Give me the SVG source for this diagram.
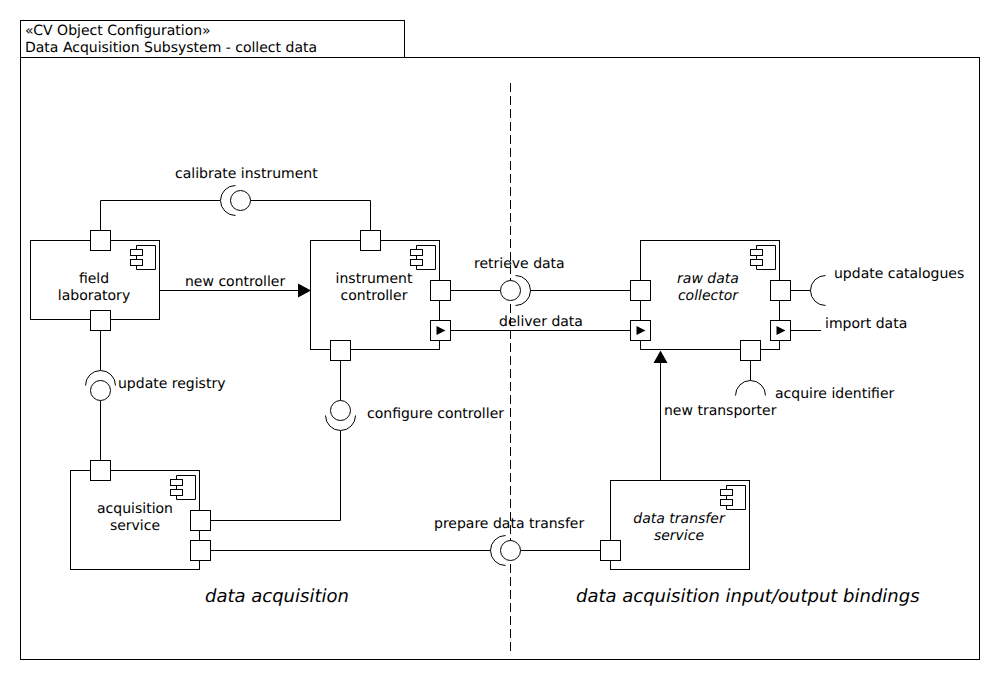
<svg xmlns="http://www.w3.org/2000/svg" width="1000" height="690" viewBox="0 0 1000 690">
<style>
text{font-family:"DejaVu Sans",sans-serif;font-size:14px;fill:#000;text-rendering:geometricPrecision}
.m{text-anchor:middle}
.i{font-style:italic}
.b{font-size:18px;font-style:italic}
.s{fill:#fff;stroke:#000;stroke-width:1}
.l{fill:none;stroke:#000;stroke-width:1}
.f{fill:#000;stroke:none}
</style>
<defs>
<g id="icon"><path class="s" d="M0.500 0.500H19.500V24.500H0.500Z"/><rect class="s" x="-5.500" y="4.500" width="12" height="6"/><rect class="s" x="-5.500" y="14.500" width="12" height="6"/></g>
<rect id="port" class="s" width="20" height="20"/>
<path id="pt" class="f" d="M0 0L9 4.500L0 9Z"/>
</defs>
<rect width="1000" height="690" fill="#fff"/>
<g id="package">
<rect class="s" x="20.500" y="20.500" width="384" height="37"/>
<rect class="s" x="20.500" y="57.500" width="959" height="602"/>
<text x="25" y="35">«CV Object Configuration»</text>
<text x="25" y="52">Data Acquisition Subsystem - collect data</text>
<path class="l" stroke-dasharray="9 4" d="M510.500 83V651"/>
</g>
<g id="connectors">
<path class="l" d="M100.500 230.500V200.500H220M250 200.500H370.500V230.500"/>
<path class="l" d="M100.500 330.500V370M100.500 400.500V460.500"/>
<path class="l" d="M340.500 360.500V400.500M340.500 430.500V520.500H210.500"/>
<path class="l" d="M450.500 290.500H500.500M530.500 290.500H630.500"/>
<path class="l" d="M450.500 330.500H630.500"/>
<path class="l" d="M210.500 550.500H490.500M520.500 550.500H600.500"/>
<path class="l" d="M790.500 290.500H810.500"/>
<path class="l" d="M790.500 330.500H821"/>
<path class="l" d="M750.500 360.500V380.500"/>
<path class="l" d="M160 290.500H299"/><path class="f" d="M298 283.500L311 290.500L298 297.500Z"/>
<path class="l" d="M660.500 480.500V362"/><path class="f" d="M660.500 350.500L667.500 363H653.500Z"/>
</g>
<g id="field-laboratory">
<rect class="s" x="30.500" y="240.500" width="129" height="79"/>
<use href="#icon" x="136" y="245"/>
<use href="#port" x="90.500" y="230.500"/><use href="#port" x="90.500" y="310.500"/>
<text class="m" x="94" y="283">field</text><text class="m" x="94" y="300">laboratory</text>
</g>
<g id="instrument-controller">
<rect class="s" x="310.500" y="240.500" width="129" height="109"/>
<use href="#icon" x="416" y="245"/>
<use href="#port" x="360.500" y="230.500"/><use href="#port" x="430.500" y="280.500"/><use href="#port" x="430.500" y="320.500"/><use href="#port" x="330.500" y="340.500"/>
<use href="#pt" x="436.500" y="326"/>
<text class="m" x="374" y="283">instrument</text><text class="m" x="374" y="300">controller</text>
</g>
<g id="raw-data-collector">
<rect class="s" x="640.500" y="240.500" width="139" height="109"/>
<use href="#icon" x="756" y="245"/>
<use href="#port" x="630.500" y="280.500"/><use href="#port" x="630.500" y="320.500"/><use href="#port" x="770.500" y="280.500"/><use href="#port" x="770.500" y="320.500"/><use href="#port" x="740.500" y="340.500"/>
<use href="#pt" x="636.500" y="326"/><use href="#pt" x="776.500" y="326"/>
<text class="m i" x="708" y="283">raw data</text><text class="m i" x="708" y="300">collector</text>
</g>
<g id="acquisition-service">
<rect class="s" x="70.500" y="470.500" width="129" height="99"/>
<use href="#icon" x="176" y="475"/>
<use href="#port" x="90.500" y="460.500"/><use href="#port" x="190.500" y="510.500"/><use href="#port" x="190.500" y="540.500"/>
<text class="m" x="135" y="513">acquisition</text><text class="m" x="135" y="530">service</text>
</g>
<g id="data-transfer-service">
<rect class="s" x="610.500" y="480.500" width="139" height="89"/>
<use href="#icon" x="726" y="485"/>
<use href="#port" x="600.500" y="540.500"/>
<text class="m i" x="679" y="523">data transfer</text><text class="m i" x="679" y="540">service</text>
</g>
<g id="interfaces">
<circle class="s" cx="240.500" cy="200.500" r="10"/><path class="l" d="M235.500 185.500A15 15 0 0 0 235.500 215.500"/>
<circle class="s" cx="100.500" cy="390.500" r="10"/><path class="l" d="M85.500 385.500A15 15 0 0 1 115.500 385.500"/>
<circle class="s" cx="340.500" cy="410.500" r="10"/><path class="l" d="M325.500 415.500A15 15 0 0 0 355.500 415.500"/>
<circle class="s" cx="510.500" cy="290.500" r="10"/><path class="l" d="M515.500 275.500A15 15 0 0 1 515.500 305.500"/>
<circle class="s" cx="510.500" cy="550.500" r="10"/><path class="l" d="M505.500 535.500A15 15 0 0 0 505.500 565.500"/>
<path class="l" d="M825.500 275.500A15 15 0 0 0 825.500 305.500"/>
<path class="l" d="M735.500 395.500A15 15 0 0 1 765.500 395.500"/>
</g>
<g id="labels">
<text x="175" y="178">calibrate instrument</text>
<text x="185" y="286">new controller</text>
<text x="118" y="388">update registry</text>
<text x="367" y="418">configure controller</text>
<text x="474" y="268">retrieve data</text>
<text x="499" y="326">deliver data</text>
<text x="834" y="278">update catalogues</text>
<text x="825" y="328">import data</text>
<text x="775" y="398">acquire identifier</text>
<text x="664" y="415">new transporter</text>
<text x="434" y="528">prepare data transfer</text>
<text class="b" x="205" y="602">data acquisition</text>
<text class="b" x="576" y="602">data acquisition input/output bindings</text>
</g>
</svg>
